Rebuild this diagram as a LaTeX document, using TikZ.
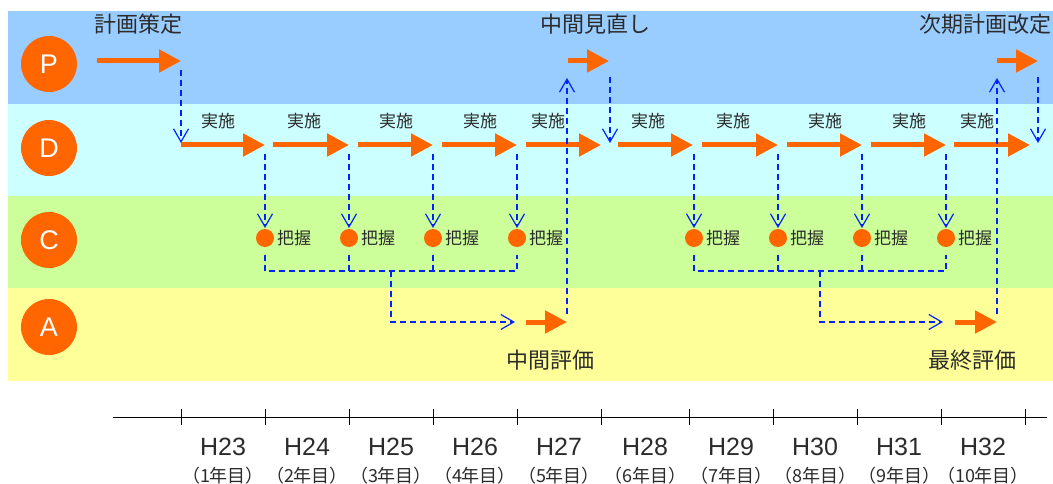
\documentclass[tikz,border=0pt]{standalone}
\usepackage{fontspec}
\setmainfont{Liberation Sans}
\newfontfamily\jp{Noto Sans CJK JP}
\usetikzlibrary{arrows.meta}
\definecolor{bandP}{HTML}{99CCFF}
\definecolor{bandD}{HTML}{CCFFFF}
\definecolor{bandC}{HTML}{CCFF99}
\definecolor{bandA}{HTML}{FFFF99}
\definecolor{orng}{HTML}{FF6600}
\definecolor{dblue}{HTML}{0022FF}
\definecolor{txt}{HTML}{2B2B2B}
\begin{document}
\begin{tikzpicture}[x=1pt,y=-1pt,
  oarrow/.style={draw=orng, line width=5pt, -{Triangle[length=22pt,width=22pt]}},
  bdash/.style={draw=dblue, line width=1.5pt, dash pattern=on 6pt off 4pt},
  barb/.style={bdash, -{Straight Barb[length=13pt,width=15pt,line width=1.2pt]}},
  phase/.style={circle, fill=orng, minimum size=56pt, inner sep=0pt, text=white, font=\fontsize{27}{27}\selectfont},
  dot/.style={circle, fill=orng, minimum size=18pt, inner sep=0pt},
  big/.style={text=txt, inner sep=0pt, font=\jp\fontsize{22}{22}\selectfont},
  small/.style={text=txt, inner sep=0pt, font=\jp\fontsize{17}{17}\selectfont},
  yr/.style={text=txt, inner sep=0pt, font=\fontsize{25}{25}\selectfont},
  yrsub/.style={text=txt, inner sep=0pt, font=\jp\fontsize{18}{18}\selectfont},
  tick/.style={draw=black, line width=0.8pt}]
\useasboundingbox (0,0) rectangle (1053,484);
% bands
\fill[bandP] (8,11) rectangle (1053,104);
\fill[bandD] (8,104) rectangle (1053,196);
\fill[bandC] (8,196) rectangle (1053,288);
\fill[bandA] (8,288) rectangle (1053,381);
% phase circles
\node[phase] (P) at (49,64) {P};
\node[phase] (D) at (49,148) {D};
\node[phase] (C) at (49,240) {C};
\node[phase] (A) at (49,327) {A};
% P row
\node[big] (t1) at (138,24) {計画策定};
\node[big] (t2) at (595,24) {中間見直し};
\node[big] (t3) at (985,24) {次期計画改定};
\coordinate (pa1s) at (97,61);  \coordinate (pa1e) at (181,61);
\coordinate (pa2s) at (568,61); \coordinate (pa2e) at (609,61);
\coordinate (pa3s) at (997,61); \coordinate (pa3e) at (1038,61);
\draw[oarrow] (pa1s) -- (pa1e);
\draw[oarrow] (pa2s) -- (pa2e);
\draw[oarrow] (pa3s) -- (pa3e);
% D row
\foreach \i/\s/\e/\l in {1/181/265/218, 2/273/349/304, 3/358/433/396, 4/442/517/480, 5/526/601/548, 6/618/693/648, 7/702/778/733, 8/787/862/825, 9/871/946/909, 10/954/1030/977}{
  \coordinate (d\i s) at (\s,145);
  \coordinate (d\i e) at (\e,145);
  \draw[oarrow] (d\i s) -- (d\i e);
  \node[small] (lab\i) at (\l,121) {実施};
}
% C row
\foreach \i/\x in {1/265, 2/349, 3/433, 4/517, 5/694, 6/778, 7/862, 8/946}{
  \node[dot] (c\i) at (\x,238) {};
  \node[small, anchor=west] (k\i) at (\x+12,238) {把握};
  \coordinate (u\i) at (\x,154);
  \coordinate (v\i) at (\x,228);
  \draw[barb] (u\i) -- (v\i);
  \coordinate (w\i) at (\x,255);
  \coordinate (z\i) at (\x,271);
}
% brackets
\coordinate (m1) at (391,271);
\coordinate (m2) at (820,271);
\draw[bdash] (w1) -- (z1) -- (z4) -- (w4);
\draw[bdash] (w2) -- (z2);
\draw[bdash] (w3) -- (z3);
\draw[bdash] (w5) -- (z5) -- (z8) -- (w8);
\draw[bdash] (w6) -- (z6);
\draw[bdash] (w7) -- (z7);
% A row
\coordinate (ae1) at (515,322);
\coordinate (ae2) at (943,322);
\draw[barb] (m1) |- (ae1);
\draw[barb] (m2) |- (ae2);
\coordinate (aa1s) at (526,322); \coordinate (aa1e) at (567,322);
\coordinate (aa2s) at (955,322); \coordinate (aa2e) at (997,322);
\draw[oarrow] (aa1s) -- (aa1e);
\draw[oarrow] (aa2s) -- (aa2e);
\node[big] (ev1) at (550,360) {中間評価};
\node[big] (ev2) at (972,360) {最終評価};
% vertical feedback
\coordinate (f1a) at (181,70);  \coordinate (f1b) at (181,143);
\coordinate (f2a) at (567,314); \coordinate (f2b) at (567,78);
\coordinate (f3a) at (610,77);  \coordinate (f3b) at (610,143);
\coordinate (f4a) at (997,314); \coordinate (f4b) at (997,78);
\coordinate (f5a) at (1038,77); \coordinate (f5b) at (1038,143);
\draw[barb] (f1a) -- (f1b);
\draw[barb] (f2a) -- (f2b);
\draw[barb] (f3a) -- (f3b);
\draw[barb] (f4a) -- (f4b);
\draw[barb] (f5a) -- (f5b);
% timeline
\coordinate (tl0) at (113,417);
\coordinate (tl1) at (1047,417);
\draw[line width=1pt] (tl0) -- (tl1);
\foreach \x in {181,265,349,433,517,601,689,773,857,941,1025}{
  \coordinate (tk\x a) at (\x,409);
  \coordinate (tk\x b) at (\x,425);
  \draw[tick] (tk\x a) -- (tk\x b);
}
\foreach \x/\h/\n in {223/H23/1, 307/H24/2, 391/H25/3, 475/H26/4, 559/H27/5, 645/H28/6, 731/H29/7, 815/H30/8, 899/H31/9, 983/H32/10}{
  \node[yr] (h\n) at (\x,447) {\h};
  \node[yrsub] (s\n) at (\x,476) {（\n 年目）};
}
\end{tikzpicture}
\end{document}
